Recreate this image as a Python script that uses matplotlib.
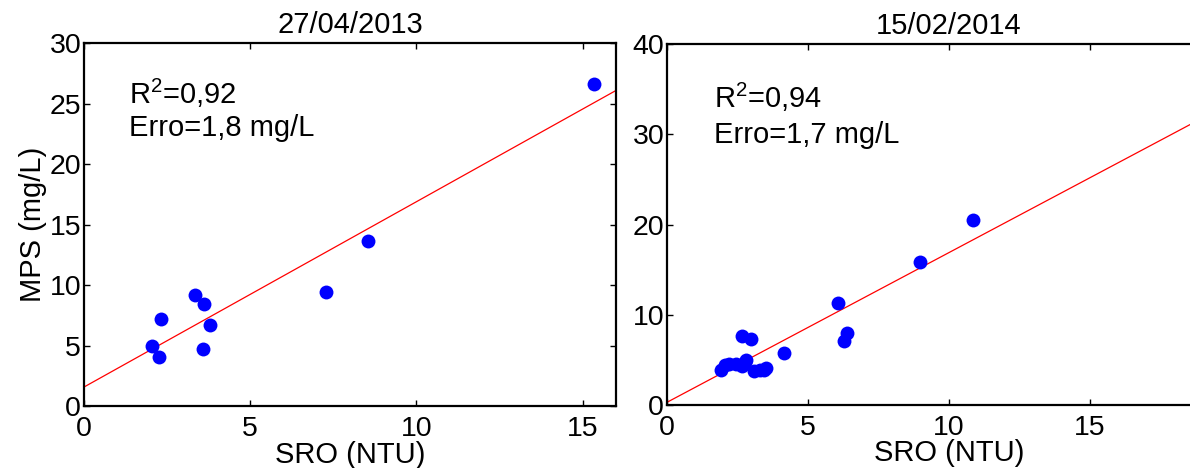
import matplotlib
matplotlib.use('Agg')
import matplotlib.pyplot as plt
import numpy as np

plt.rcParams['font.family'] = ['Liberation Sans', 'DejaVu Sans']
plt.rcParams['mathtext.fontset'] = 'custom'
plt.rcParams['mathtext.rm'] = 'Liberation Sans'
plt.rcParams['mathtext.default'] = 'regular'

# 27/04/2013
sro_a = [2.06, 2.26, 2.32, 3.33, 3.62, 3.79, 3.57, 7.27, 8.55, 15.35]
mps_a = [5.0, 4.05, 7.2, 9.2, 8.45, 6.7, 4.7, 9.43, 13.66, 26.6]
fit_a = (1.53, 1.6)          # slope, intercept

# 15/02/2014
sro_b = [1.9, 2.05, 2.2, 2.45, 2.65, 2.8, 2.75, 3.1, 3.3, 3.5, 3.45,
         2.67, 2.99, 4.14, 6.06, 6.26, 6.38, 8.97, 10.86, 18.8]
mps_b = [3.9, 4.4, 4.5, 4.6, 4.3, 5.0, 4.8, 3.8, 3.9, 4.1, 3.85,
         7.7, 7.35, 5.77, 11.3, 7.1, 8.0, 15.9, 20.5, 31.4]
fit_b = (1.66, 0.3)

titles = ['27/04/2013', '15/02/2014']
r2_labels = ['R$^2$=0,92', 'R$^2$=0,94']
erro_labels = ['Erro=1,8 mg/L', 'Erro=1,7 mg/L']

fs = 21

fig = plt.figure(figsize=(11.9, 4.68), dpi=100)
ax1 = fig.add_axes([0.0706, 0.1316, 0.447, 0.7765])
ax2 = fig.add_axes([0.5605, 0.1346, 0.474, 0.771])


def draw(ax, x, y, fit, xlim, ylim, yticks, title, r2, erro, txt):
    ax.plot(x, y, 'o', color='#0000ff', markersize=10, markeredgewidth=0, zorder=3)
    xx = np.array(xlim, dtype=float)
    ax.plot(xx, fit[0] * xx + fit[1], color='red', lw=0.9, zorder=2)
    ax.set_xlim(xlim)
    ax.set_ylim(ylim)
    ax.set_xticks([0, 5, 10, 15])
    ax.set_yticks(yticks)
    ax.tick_params(direction='in', top=True, right=True, length=4, width=1,
                   labelsize=fs - 0.5, pad=2)
    ax.tick_params(axis='x', pad=7)
    for s in ax.spines.values():
        s.set_linewidth(1.6)
    ax.set_title(title, fontsize=fs, pad=7)
    ax.set_xlabel('SRO (NTU)', fontsize=fs, labelpad=-1)
    ax.text(txt[0], txt[1], r2, fontsize=fs, va='baseline')
    ax.text(txt[0], txt[2], erro, fontsize=fs, va='baseline')


draw(ax1, sro_a, mps_a, fit_a, (0, 16), (0, 30), [0, 5, 10, 15, 20, 25, 30],
     titles[0], r2_labels[0], erro_labels[0], (1.34, 25.0, 22.3))
draw(ax2, sro_b, mps_b, fit_b, (0, 20), (0, 40), [0, 10, 20, 30, 40],
     titles[1], r2_labels[1], erro_labels[1], (1.67, 32.9, 29.0))
ax1.set_ylabel('MPS (mg/L)', fontsize=fs, labelpad=2)

fig.savefig('out.png', dpi=100)
